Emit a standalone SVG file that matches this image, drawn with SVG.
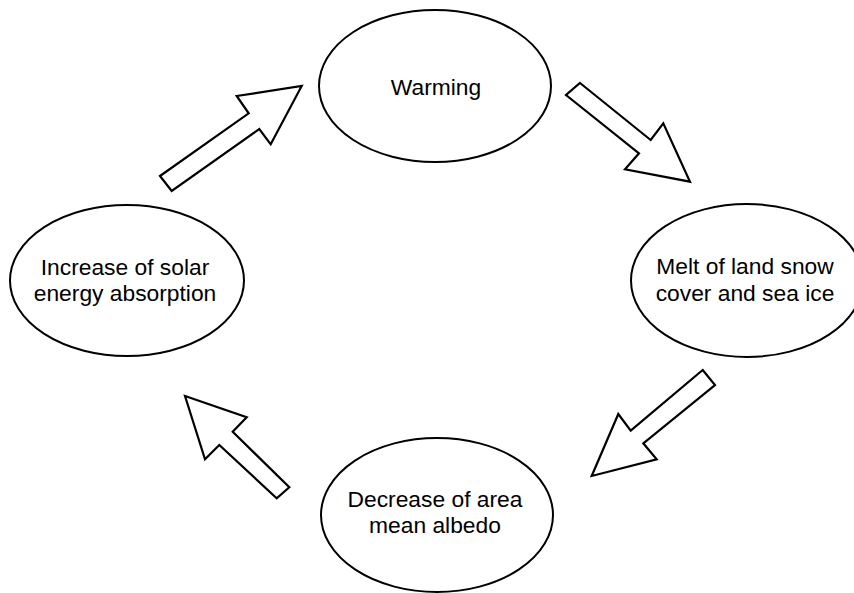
<svg xmlns="http://www.w3.org/2000/svg" width="854" height="593" viewBox="0 0 854 593">
<style>
.node ellipse{fill:#fff;stroke:#000;stroke-width:2}
.node text{font-family:"Liberation Sans",Arial,Helvetica,sans-serif;font-size:22.8px;fill:#000;text-anchor:middle}
.arrow{fill:#fff;stroke:#000;stroke-width:2.2;stroke-linejoin:miter}
</style>
<rect width="854" height="593" fill="#fff"/>
<g id="connectors">
<polygon class="arrow" points="160,176 248.7,113.3 236.7,96 301.7,86 270.7,144.3 259.3,129 171.7,191"/>
<polygon class="arrow" points="580,83 650.7,140 663.3,123.3 690,181.7 625,169.3 639,153.3 566,95"/>
<polygon class="arrow" points="702.7,370 715,385 643.3,443.3 656.7,459.3 591.7,476 618.3,414 630.7,430.7"/>
<polygon class="arrow" points="185,396 246.7,417.3 232.7,431.7 289.3,487.3 276.7,498.3 219.3,445 205,459.3"/>
</g>
<g id="warming" class="node">
<ellipse cx="435" cy="86" rx="116" ry="76"/>
<text x="436" y="95">Warming</text>
</g>
<g id="melt" class="node">
<ellipse cx="747" cy="280.5" rx="116" ry="76.5"/>
<text x="745" y="274">Melt of land snow</text>
<text x="745" y="300.5">cover and sea ice</text>
</g>
<g id="albedo" class="node">
<ellipse cx="437" cy="515" rx="116" ry="77"/>
<text x="435" y="507">Decrease of area</text>
<text x="435" y="533">mean albedo</text>
</g>
<g id="absorption" class="node">
<ellipse cx="127" cy="280.5" rx="117" ry="75.5"/>
<text x="125" y="275">Increase of solar</text>
<text x="125" y="301">energy absorption</text>
</g>
</svg>
